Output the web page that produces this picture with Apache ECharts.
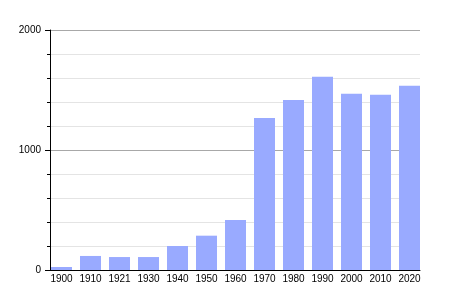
<!DOCTYPE html>
<html><head><meta charset="utf-8">
<script src="https://cdn.jsdelivr.net/npm/echarts@6/dist/echarts.min.js"></script>
<style>html,body{margin:0;padding:0;background:#fff}#c{width:450px;height:300px}</style>
</head><body><div id="c"></div>
<script>
const years = ['1900','1910','1921','1930','1940','1950','1960','1970','1980','1990','2000','2010','2020'];
const population = [25, 117, 108, 108, 200, 286, 417, 1267, 1417, 1611, 1469, 1461, 1536];
const yTicks = [0, 1000, 2000];

const chart = echarts.init(document.getElementById('c'), null, {renderer: 'canvas'});
const font = {fontFamily: 'Liberation Sans, Arial, sans-serif', fontSize: 10, color: '#000'};
chart.setOption({
  animation: false,
  grid: [
    {left: 50, right: 30, top: 30, bottom: 30},
    {left: 47, width: 377, top: 30, bottom: 30}
  ],
  xAxis: [
    {gridIndex: 0, type: 'category', data: years, axisLine: {lineStyle: {color: '#000', width: 1}},
     axisTick: {show: false}, axisLabel: {show: false}},
    {gridIndex: 1, type: 'category', data: years, axisLine: {show: false}, axisTick: {show: false},
     axisLabel: Object.assign({margin: 4, interval: 0}, font)}
  ],
  yAxis: [
    {gridIndex: 0, type: 'value', min: yTicks[0], max: yTicks[yTicks.length - 1], interval: 1000,
     axisLine: {show: true, lineStyle: {color: '#000'}},
     axisTick: {show: true, length: 5, lineStyle: {color: '#000'}},
     minorTick: {show: true, splitNumber: 5, length: 3, lineStyle: {color: '#000'}},
     axisLabel: Object.assign({margin: 9, formatter: v => String(v)}, font),
     splitLine: {show: true, lineStyle: {color: '#a8a8a8', width: 1}},
     minorSplitLine: {show: true, lineStyle: {color: '#e4e4e4', width: 1}}},
    {gridIndex: 1, type: 'value', min: yTicks[0], max: yTicks[yTicks.length - 1], show: false,
     splitLine: {show: false}}
  ],
  series: [{
    type: 'bar', xAxisIndex: 1, yAxisIndex: 1, data: population,
    barWidth: 21, itemStyle: {color: '#99aaff'}
  }]
});
</script></body></html>
